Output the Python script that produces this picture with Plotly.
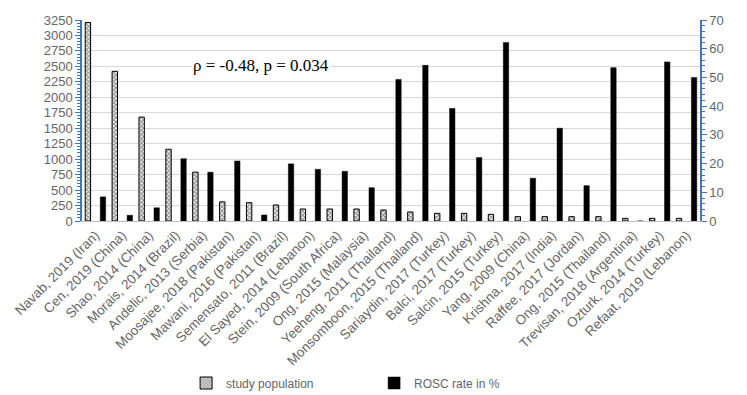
import plotly.graph_objects as go

studies = ["Navab, 2019 (Iran)", "Cen, 2019 (China)", "Shao, 2014 (China)", "Morais, 2014 (Brazil)",
           "Andelic, 2013 (Serbia)", "Moosajee, 2018 (Pakistan)", "Mawani, 2016 (Pakistan)",
           "Semensato, 2011 (Brazil)", "El Sayed, 2014 (Lebanon)", "Stein, 2009 (South Africa)",
           "Ong, 2015 (Malaysia)", "Yeeheng, 2011 (Thailand)", "Monsomboon, 2015 (Thailand)",
           "Sariaydin, 2017 (Turkey)", "Balci, 2017 (Turkey)", "Salcin, 2015 (Turkey)",
           "Yang, 2009 (China)", "Krishna, 2017 (India)", "Raffee, 2017 (Jordan)",
           "Ong, 2015 (Thailand)", "Trevisan, 2018 (Argentina)", "Ozturk, 2014 (Turkey)",
           "Refaat, 2019 (Lebanon)"]
study_population = [3210, 2420, 1680, 1160, 790, 310, 296, 259, 194, 194, 194, 178, 146,
                    124, 124, 108, 70, 70, 70, 70, 43, 43, 43]
rosc_rate = [8.4, 2.0, 4.6, 21.7, 17.0, 20.9, 2.1, 19.9, 18.0, 17.3, 11.6, 49.3, 54.2,
             39.2, 22.1, 62.2, 14.9, 32.3, 12.3, 53.4, 0, 55.4, 50.0]
left_ticks = list(range(0, 3251, 250))
right_ticks = list(range(0, 71, 10))
annotation_text = "ρ = -0.48, p = 0.034"

blue = "#4472C4"
gray = "#666666"

fig = go.Figure()
fig.add_trace(go.Bar(
    x=studies, y=study_population, name="study population", yaxis="y",
    width=0.2, offset=-0.38,
    marker=dict(color="white", line=dict(color="black", width=1),
                pattern=dict(shape="x", size=3, solidity=0.6, fgcolor="#222", bgcolor="white",
                             fillmode="overlay")),
))
fig.add_trace(go.Bar(
    x=studies, y=rosc_rate, name="ROSC rate in %", yaxis="y2",
    width=0.2, offset=0.18,
    marker=dict(color="black", line=dict(color="black", width=0.5)),
))

fig.update_layout(
    template="none",
    width=739, height=387,
    margin=dict(l=74, r=47, t=12, b=174, autoexpand=False),
    plot_bgcolor="white", paper_bgcolor="white",
    barmode="overlay",
    font=dict(family="Liberation Sans, Arial, sans-serif", color=gray, size=12),
    xaxis=dict(tickangle=-45, tickfont=dict(size=13.5, color=gray), showgrid=False,
               showline=True, linecolor="#bfbfbf", linewidth=1, ticks="",
               range=[-0.5, len(studies) - 0.5], automargin=False),
    yaxis=dict(range=[0, 3250], tickvals=left_ticks, tickfont=dict(size=13, color=gray),
               showgrid=True, gridcolor="#d9d9d9", gridwidth=1,
               showline=True, linecolor=blue, linewidth=1.5,
               ticks="outside", ticklen=5, tickcolor=blue,
               minor=dict(ticks="outside", ticklen=3, tickcolor=blue, dtick=50, showgrid=False),
               zeroline=False, automargin=False),
    yaxis2=dict(range=[0, 70], tickvals=right_ticks, overlaying="y", side="right",
                tickfont=dict(size=13, color=gray), showgrid=False,
                showline=True, linecolor=blue, linewidth=1.5,
                ticks="outside", ticklen=5, tickcolor=blue,
                minor=dict(ticks="outside", ticklen=3, tickcolor=blue, dtick=2, showgrid=False),
                zeroline=False, automargin=False),
    legend=dict(orientation="h", x=0.241, xref="container", y=-0.806, yref="paper",
                xanchor="left", yanchor="middle", font=dict(size=12, color=gray),
                itemwidth=30, entrywidth=143, bgcolor="rgba(0,0,0,0)"),
    showlegend=True,
)

fig.add_annotation(text=annotation_text, xref="paper", yref="paper", x=0.290, y=0.776,
                   xanchor="center", yanchor="middle",
                   showarrow=False, bgcolor="white",
                   font=dict(family="Liberation Serif, Times New Roman, serif", size=17, color="black"))

fig.write_html("out.html")
